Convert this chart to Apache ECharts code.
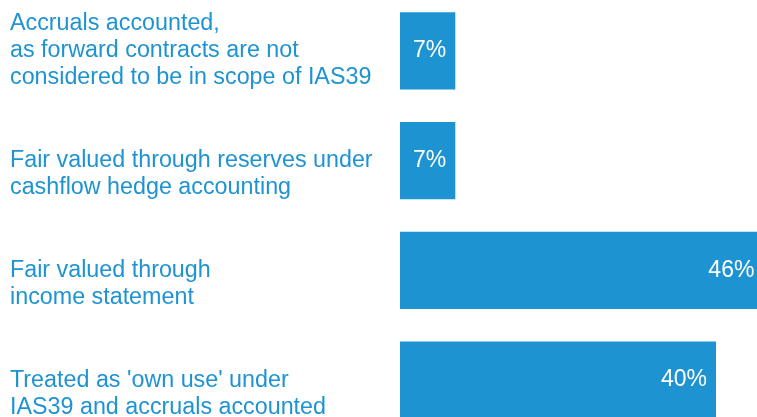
<!DOCTYPE html>
<html>
<head>
<meta charset="utf-8">
<script src="https://cdn.jsdelivr.net/npm/echarts@6/dist/echarts.min.js"></script>
<style>
  html, body { margin: 0; padding: 0; background: #ffffff; }
  #chart { width: 757px; height: 417px; }
</style>
</head>
<body>
<div id="chart"></div>
<script>
// Accounting treatment of forward contracts (share of respondents, %)
const categories = [
  'Accruals accounted,\nas forward contracts are not\nconsidered to be in scope of IAS39',
  'Fair valued through reserves under\ncashflow hedge accounting',
  'Fair valued through\nincome statement',
  "Treated as 'own use' under\nIAS39 and accruals accounted"
];
const shares = [7, 7, 46, 40];

const BLUE = '#1e93d2';

// Every label is laid out as a three-line block; shorter ones sit on the lower lines.
function padLines(text) {
  const lines = text.split('\n');
  while (lines.length < 3) lines.unshift('');
  return lines.join('\n');
}

const chart = echarts.init(document.getElementById('chart'), null, { renderer: 'canvas' });
chart.setOption({
  animation: false,
  grid: {
    left: 400, top: -4, width: 395, height: 439,
    containLabel: false,
    outerBoundsMode: 'none'
  },
  xAxis: {
    type: 'value',
    min: 0,
    max: 50,
    show: false
  },
  yAxis: {
    type: 'category',
    inverse: true,
    data: categories,
    axisLine: { show: false },
    axisTick: { show: false },
    splitLine: { show: false },
    axisLabel: {
      formatter: padLines,
      align: 'left',
      margin: 390,
      color: BLUE,
      fontFamily: 'Liberation Sans, Arial, sans-serif',
      fontSize: 23.3,
      lineHeight: 27
    }
  },
  series: [{
    type: 'bar',
    data: shares,
    barCategoryGap: '29.4%',
    itemStyle: { color: BLUE },
    label: {
      show: true,
      position: 'insideRight',
      distance: 9,
      formatter: '{c}%',
      color: '#ffffff',
      fontFamily: 'Liberation Sans, Arial, sans-serif',
      fontSize: 23
    }
  }]
});
</script>
</body>
</html>
